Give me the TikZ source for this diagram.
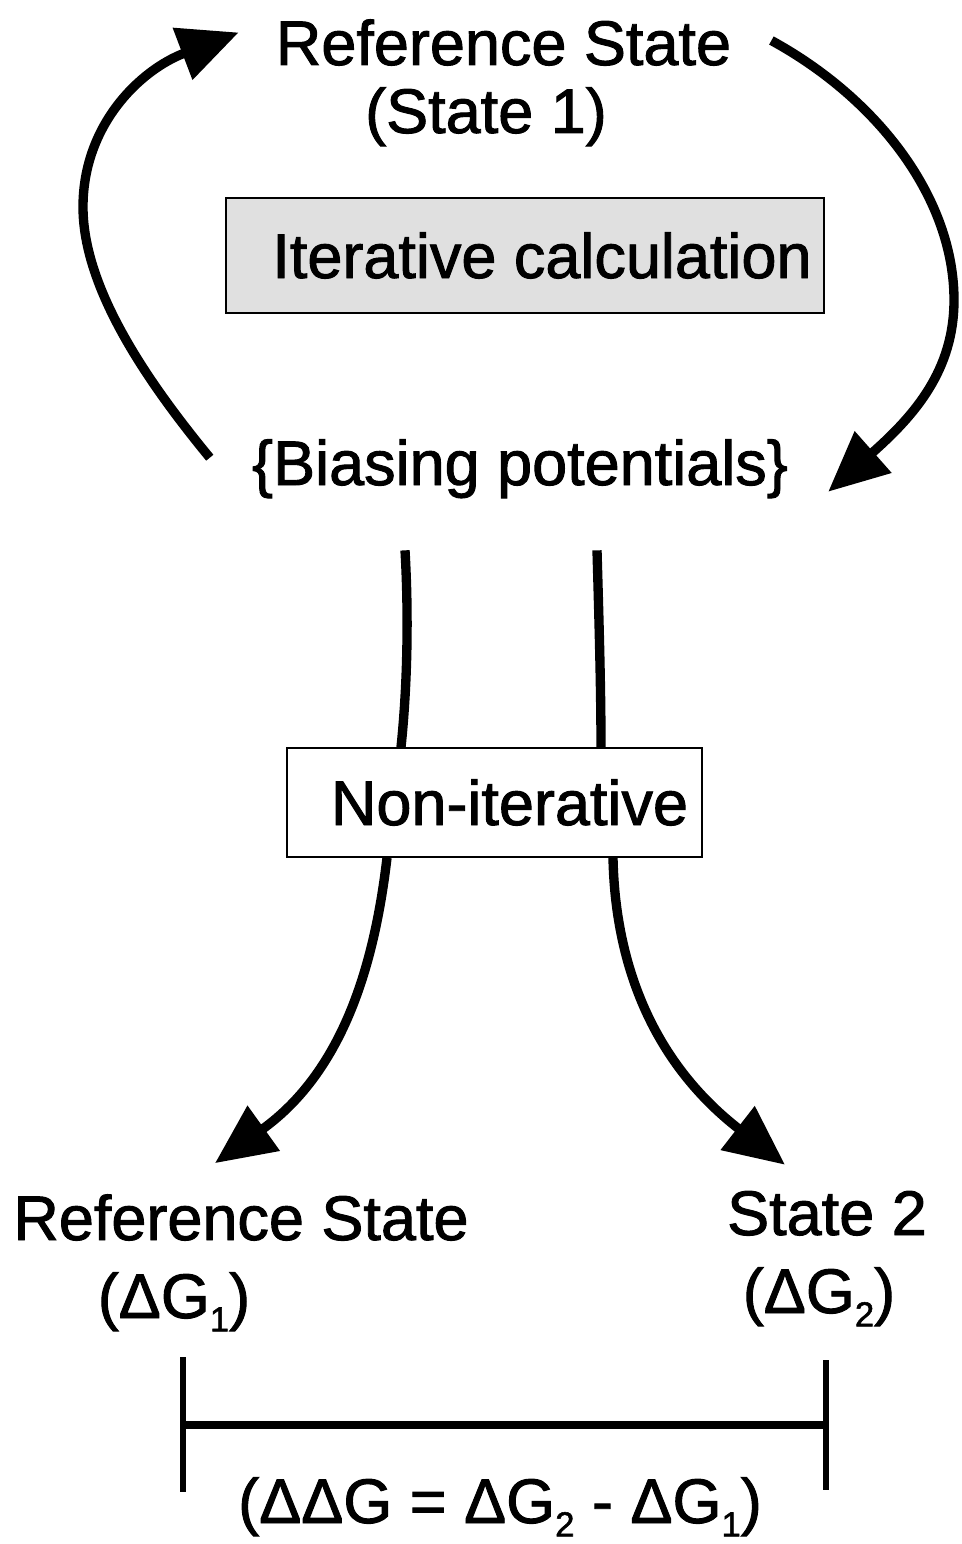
\documentclass[tikz,border=0pt]{standalone}
\usepackage{fontspec}
\setmainfont[FakeBold=1.5]{Liberation Sans}
\usetikzlibrary{arrows.meta}
% lowered index digit
\newcommand\lowsub[1]{\raisebox{-10pt}{\fontsize{26pt}{26pt}\selectfont #1}}

\begin{document}
\begin{tikzpicture}[x=0.75pt,y=-0.75pt,
  lbl/.style={inner sep=0pt, anchor=base, font=\fontsize{47.25pt}{56pt}\selectfont},
  boxed/.style={draw, inner sep=0pt, font=\fontsize{47.25pt}{56pt}\selectfont},
  itbox/.style={boxed, line width=1.6pt, fill=black!12,
                minimum width=448.5pt, minimum height=86.25pt},
  nibox/.style={boxed, line width=1.2pt, fill=white,
                minimum width=311.25pt, minimum height=81.75pt},
  flow/.style={line width=7pt, -{Triangle[length=45pt,width=40pt]}},
  stem/.style={line width=7pt},
  tick/.style={line width=4.5pt},
  bar/.style={line width=6.5pt}]
\useasboundingbox (0,0) rectangle (962,1544);

% labels
\node[lbl] (reftop) at (503.5,65) {Reference State};
\node[lbl] (state1) at (486,133) {(State 1)};
\node[itbox] (iter) at (525,255.5) {\hspace*{25.5pt}Iterative calculation};
\node[lbl] (bias) at (520,485) {\{Biasing potentials\}};
\node[nibox] (nonit) at (494.5,802.5) {\hspace*{22.5pt}Non-iterative};
\node[lbl] (refbot) at (241,1240) {Reference State};
\node[lbl] (dg1) at (174,1318) {(ΔG\lowsub{1})};
\node[lbl] (state2) at (827,1235) {State 2};
\node[lbl] (dg2) at (819,1313) {(ΔG\lowsub{2})};
\node[lbl] (ddg) at (500,1523) {(ΔΔG = ΔG\lowsub{2} - ΔG\lowsub{1})};

% iterative loop
\draw[flow] ([shift={(-42,-11)}]bias.west)
  .. controls (150,385) and (83,290) .. (83,207)
  .. controls (83,125) and (140,70) .. ([shift={(-37,-10)}]reftop.west);
\draw[flow] ([shift={(40,-2)}]reftop.east)
  .. controls (880,100) and (954,200) .. (954,300)
  .. controls (954,370) and (915,415) .. ([shift={(40,23)}]bias.east);

% stems into the non-iterative box
\draw[stem] ([shift={(-115,52)}]bias.south)
  .. controls (409,620) and (407,690) .. ([shift={(-93.5,0)}]nonit.north);
\draw[stem] ([shift={(77,52)}]bias.south)
  .. controls (599,620) and (601,690) .. ([shift={(106.5,0)}]nonit.north);

% branches to the two states
\draw[flow] ([shift={(-107.5,0)}]nonit.south)
  .. controls (375,960) and (345,1070) .. ([shift={(-26,-31)}]refbot.north);
\draw[flow] ([shift={(118.5,0)}]nonit.south)
  .. controls (615,960) and (650,1060) .. ([shift={(-42,-26)}]state2.north);

% difference bracket
\coordinate (brL) at (183,1425);
\coordinate (brR) at (826,1425);
\draw[tick] ([shift={(0,-68)}]brL) -- ([shift={(0,67)}]brL);
\draw[tick] ([shift={(0,-65)}]brR) -- ([shift={(0,65)}]brR);
\draw[bar] (brL) -- (brR);
\end{tikzpicture}
\end{document}
